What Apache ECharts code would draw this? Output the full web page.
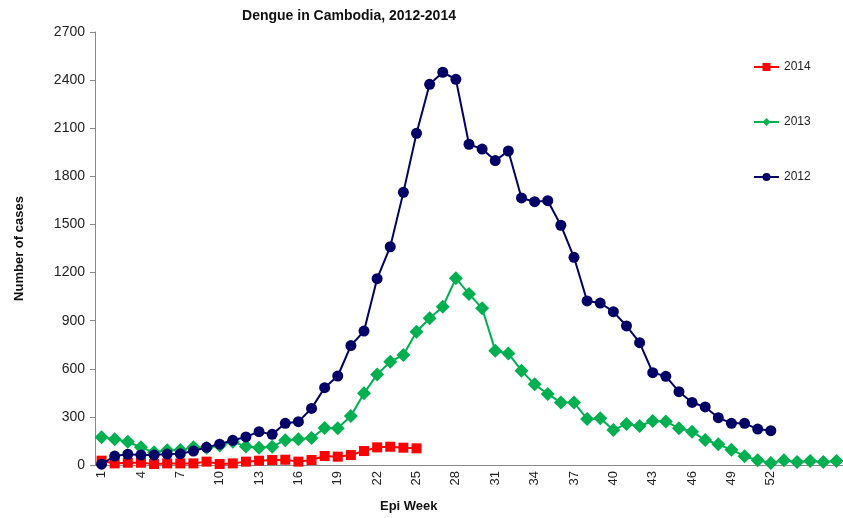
<!DOCTYPE html>
<html>
<head>
    <meta charset="utf-8">
    <style>
        body{ margin: 0; }
        #chart-container{ width: 843px; height: 518px; }
    </style>
</head>
<body>
    <div id="chart-container"></div>

    <script type="text/javascript" src="https://cdn.jsdelivr.net/npm/echarts@6/dist/echarts.min.js"></script>
    <script type="text/javascript">
        // epi weeks (the axis runs a bit past week 52, only 1..52 are labelled)
        var weeks = [];
        for (var i = 1; i <= 57; i++) weeks.push(i <= 52 ? String(i) : '');

        var cases2012 = [5, 56, 67, 62, 62, 68, 70, 87, 110, 130, 154, 175, 208, 191, 260, 270, 353, 482, 555, 745,
            835, 1162, 1361, 1700, 2068, 2374, 2449, 2405, 2000, 1970, 1898, 1958, 1665, 1642, 1648, 1495, 1295, 1023, 1010, 956,
            867, 763, 576, 553, 457, 390, 362, 295, 260, 260, 224, 214];
        var cases2013 = [173, 160, 145, 110, 79, 92, 94, 110, 108, 122, 145, 116, 108, 114, 155, 160, 168, 230, 229, 305,
            447, 565, 644, 686, 831, 915, 987, 1164, 1067, 977, 713, 696, 588, 503, 443, 389, 389, 287, 291, 218,
            256, 243, 274, 272, 229, 208, 156, 129, 95, 55, 30, 12, 30, 18, 25, 18, 25];
        var cases2014 = [27, 10, 14, 14, 6, 10, 10, 10, 21, 6, 10, 21, 27, 31, 33, 21, 31, 56, 52, 62,
            87, 110, 114, 108, 104];

        var yTicks = { min: 0, max: 2700, step: 300 };

        var chart = echarts.init(document.getElementById('chart-container'));
        var font = 'Liberation Sans, Arial, sans-serif';

        var option = {
            animation: false,
            title: {
                text: 'Dengue in Cambodia, 2012-2014',
                left: 344,
                textAlign: 'center',
                top: 4,
                textStyle: { fontFamily: font, fontSize: 14, fontWeight: 'bold', color: '#111' }
            },
            legend: {
                orient: 'vertical',
                left: 748,
                top: 56,
                itemGap: 43,
                itemWidth: 25,
                itemHeight: 10,
                textStyle: { fontFamily: font, fontSize: 12, color: '#222' },
                data: ['2014', '2013', '2012']
            },
            grid: { left: 95, top: 32, bottom: 53, width: 760 },
            xAxis: {
                type: 'category',
                data: weeks,
                boundaryGap: true,
                axisLine: { lineStyle: { color: '#888' } },
                axisTick: { interval: 0, length: 4, lineStyle: { color: '#888' } },
                axisLabel: { interval: 2, rotate: 90, fontFamily: font, fontSize: 13, color: '#222', margin: 6 }
            },
            yAxis: {
                type: 'value',
                min: yTicks.min,
                max: yTicks.max,
                interval: yTicks.step,
                name: 'Number of cases',
                nameLocation: 'middle',
                nameGap: 69,
                nameTextStyle: { fontFamily: font, fontSize: 13, fontWeight: 'bold', color: '#111' },
                splitLine: { show: false },
                axisLine: { show: true, lineStyle: { color: '#888' } },
                axisTick: { show: true, length: 5, lineStyle: { color: '#888' } },
                axisLabel: {
                    fontFamily: font, fontSize: 14, color: '#222', margin: 10,
                    formatter: function (v) { return String(v); }
                }
            },
            graphic: [{
                type: 'text',
                left: 380,
                top: 500,
                style: { text: 'Epi Week', font: 'bold 13px ' + font, fill: '#111' }
            }],
            series: [
                {
                    name: '2014', type: 'line', data: cases2014, z: 3,
                    symbol: 'rect', symbolSize: 10, showAllSymbol: true,
                    itemStyle: { color: '#ff0000' },
                    lineStyle: { width: 2, color: '#ff0000' }
                },
                {
                    name: '2013', type: 'line', data: cases2013, z: 2,
                    symbol: 'diamond', symbolSize: 14, showAllSymbol: true,
                    itemStyle: { color: '#00b050' },
                    lineStyle: { width: 2, color: '#00b050' }
                },
                {
                    name: '2012', type: 'line', data: cases2012, z: 4,
                    symbol: 'circle', symbolSize: 11, showAllSymbol: true,
                    itemStyle: { color: '#000066' },
                    lineStyle: { width: 2, color: '#000066' }
                }
            ]
        };
        chart.setOption(option);
    </script>
</body>
</html>
